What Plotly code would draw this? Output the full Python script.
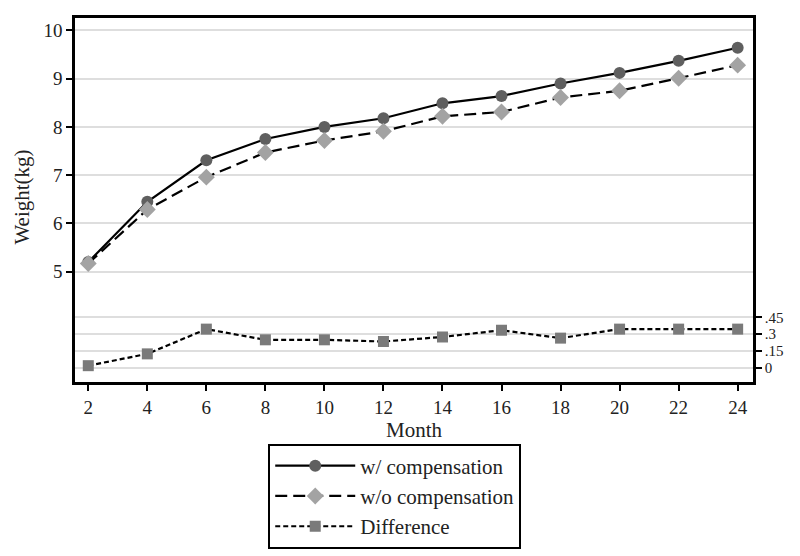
import plotly.graph_objects as go

months = [2, 4, 6, 8, 10, 12, 14, 16, 18, 20, 22, 24]
with_comp = [5.20, 6.45, 7.31, 7.75, 8.00, 8.18, 8.49, 8.64, 8.90, 9.12, 9.37, 9.64]
without_comp = [5.17, 6.29, 6.96, 7.47, 7.72, 7.91, 8.22, 8.31, 8.61, 8.75, 9.01, 9.28]
difference = [0.02, 0.125, 0.345, 0.25, 0.25, 0.235, 0.275, 0.335, 0.265, 0.345, 0.345, 0.345]

x_ticks = list(range(2, 25, 2))
left_ticks = [5, 6, 7, 8, 9, 10]
right_ticks = [0, 0.15, 0.3, 0.45]
right_labels = ["0", ".15", ".3", ".45"]

FONT = '"Liberation Serif", "Times New Roman", Times, serif'
TXT = "#222"

fig = go.Figure()
fig.add_trace(go.Scatter(
    x=months, y=with_comp, name="w/ compensation", mode="lines+markers",
    line=dict(color="black", width=2.2),
    marker=dict(symbol="circle", size=12, color="#5f5f5f"),
))
fig.add_trace(go.Scatter(
    x=months, y=without_comp, name="w/o compensation", mode="lines+markers",
    line=dict(color="black", width=2.2, dash="12px,6px"),
    marker=dict(symbol="diamond", size=13, color="#a3a3a3"),
))
fig.add_trace(go.Scatter(
    x=months, y=difference, name="Difference", mode="lines+markers", yaxis="y2",
    line=dict(color="black", width=2.2, dash="5px,3px"),
    marker=dict(symbol="square", size=11, color="#7a7a7a"),
))

axis_common = dict(
    showline=True, linecolor="black", linewidth=2.5,
    ticks="outside", ticklen=6, tickwidth=2, tickcolor="black",
    zeroline=False,
)

fig.update_layout(
    width=792, height=548,
    margin=dict(l=67, r=47, t=7, b=174),
    paper_bgcolor="white", plot_bgcolor="white",
    font=dict(family=FONT, size=19, color=TXT),
    xaxis=dict(
        range=[1.55, 24.52], tickvals=x_ticks, showgrid=False, mirror=True,
        tickfont=dict(family=FONT, size=19, color=TXT),
        title=dict(text="Month", font=dict(family=FONT, size=21, color=TXT), standoff=0),
        **axis_common,
    ),
    yaxis=dict(
        range=[2.716, 10.257], tickvals=left_ticks, showgrid=True,
        gridcolor="#dedede", gridwidth=2,
        tickfont=dict(family=FONT, size=19, color=TXT),
        **axis_common,
    ),
    yaxis2=dict(
        range=[-0.125, 3.11], tickvals=right_ticks, ticktext=right_labels,
        overlaying="y", side="right", showgrid=True, gridcolor="#dedede", gridwidth=2,
        tickfont=dict(family=FONT, size=15, color=TXT),
        **axis_common,
    ),
    showlegend=True,
    legend=dict(
        x=0.285, y=-0.169, xanchor="left", yanchor="top",
        bordercolor="black", borderwidth=2, bgcolor="white",
        font=dict(family=FONT, size=21, color=TXT),
        itemwidth=80, tracegroupgap=0,
    ),
    annotations=[dict(
        text="Weight(kg)", textangle=-90, xref="paper", yref="paper",
        x=-0.078, y=0.507, showarrow=False, xanchor="center", yanchor="middle",
        font=dict(family=FONT, size=21, color=TXT),
    )],
)

fig.write_html("out.html")
